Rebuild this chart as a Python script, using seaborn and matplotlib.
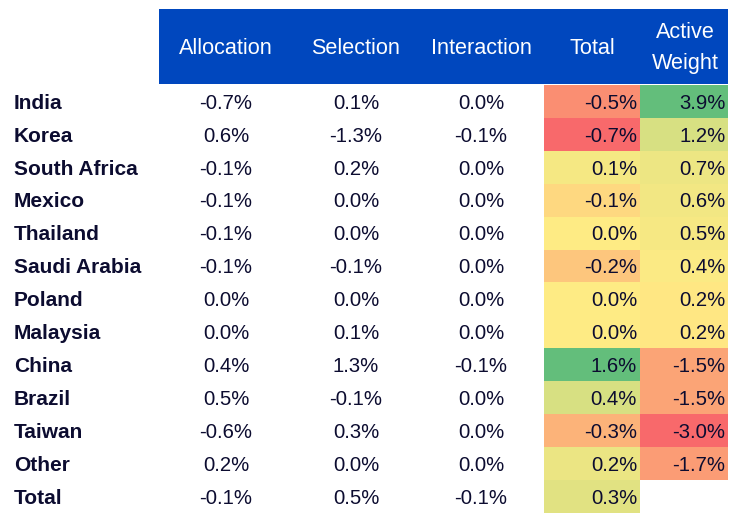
import matplotlib
matplotlib.use("Agg")
import matplotlib.pyplot as plt
import seaborn as sns
import numpy as np
import pandas as pd
from matplotlib.colors import LinearSegmentedColormap, TwoSlopeNorm
from matplotlib.patches import Rectangle

# datos de la tabla (en %)
paises = ["India", "Korea", "South Africa", "Mexico", "Thailand", "Saudi Arabia",
          "Poland", "Malaysia", "China", "Brazil", "Taiwan", "Other", "Total"]
allocation = [-0.7, 0.6, -0.1, -0.1, -0.1, -0.1, 0.0, 0.0, 0.4, 0.5, -0.6, 0.2, -0.1]
selection = [0.1, -1.3, 0.2, 0.0, 0.0, -0.1, 0.0, 0.1, 1.3, -0.1, 0.3, 0.0, 0.5]
interaction = [0.0, -0.1, 0.0, 0.0, 0.0, 0.0, 0.0, 0.0, -0.1, 0.0, 0.0, 0.0, -0.1]
total = [-0.5, -0.7, 0.1, -0.1, 0.0, -0.2, 0.0, 0.0, 1.6, 0.4, -0.3, 0.2, 0.3]
active_weight = [3.9, 1.2, 0.7, 0.6, 0.5, 0.4, 0.2, 0.2, -1.5, -1.5, -3.0, -1.7, np.nan]

plt.rcParams['font.family'] = ['Liberation Sans', 'DejaVu Sans']
FS = 14.6       # numeros
FS_LAB = 15     # etiquetas de filas
FS_CAB = 15.6   # cabecera
TXT = "#0c0c30"

W, H = 732, 526
fig = plt.figure(figsize=(W / 100, H / 100), dpi=100)

# ejes principales en pixeles
ax = fig.add_axes([0, 0, 1, 1])
ax.set_xlim(0, W)
ax.set_ylim(H, 0)
ax.axis("off")

top, row_h = 85, 32.9
n = len(paises)
bottom = top + row_h * n
dy = 1.8  # pequeño ajuste vertical del texto

# cabecera azul
ax.add_patch(Rectangle((159, 9), 728 - 159, 84 - 9, color="#0047BE", lw=0))
cabecera = [("Allocation", 226), ("Selection", 356), ("Interaction", 481),
            ("Total", 592)]
for txt, xc in cabecera:
    ax.text(xc, 47 + dy, txt, color="white", fontsize=FS_CAB, ha="center", va="center")
ax.text(685, 31 + dy, "Active", color="white", fontsize=FS_CAB, ha="center", va="center")
ax.text(685, 62 + dy, "Weight", color="white", fontsize=FS_CAB, ha="center", va="center")

# columnas sin color
for i in range(n):
    yc = top + row_h * (i + 0.5) + dy
    ax.text(14, yc, paises[i], color=TXT, fontsize=FS_LAB, fontweight="bold",
            ha="left", va="center")
    for col, xc in [(allocation, 226), (selection, 356), (interaction, 481)]:
        ax.text(xc, yc, f"{col[i]:.1f}%", color=TXT, fontsize=FS,
                ha="center", va="center")

# escala de color tipo Excel (rojo - amarillo - verde)
cmap = LinearSegmentedColormap.from_list("excel", ["#F8696B", "#FFEB84", "#63BE7B"])

def columna_color(valores, x0, x1, nombre):
    datos = pd.DataFrame({nombre: valores}, index=paises)
    v = datos[nombre].dropna()
    norm = TwoSlopeNorm(vmin=v.min(), vcenter=v.median(), vmax=v.max())
    cax = fig.add_axes([x0 / W, (H - bottom) / H, (x1 - x0) / W, (bottom - top) / H])
    sns.heatmap(datos, ax=cax, cmap=cmap, norm=norm, cbar=False,
                mask=datos.isna(), xticklabels=False, yticklabels=False,
                linewidths=0)
    cax.set_facecolor("white")
    cax.set_xlabel("")
    cax.set_ylabel("")
    for i, val in enumerate(valores):
        if not np.isnan(val):
            cax.text(0.97, i + 0.5 + dy / row_h, f"{val:.1f}%", color=TXT,
                     fontsize=FS, ha="right", va="center")

columna_color(total, 544, 640, "Total")
columna_color(active_weight, 640, 728, "Active Weight")

fig.savefig("out.png", dpi=100)
